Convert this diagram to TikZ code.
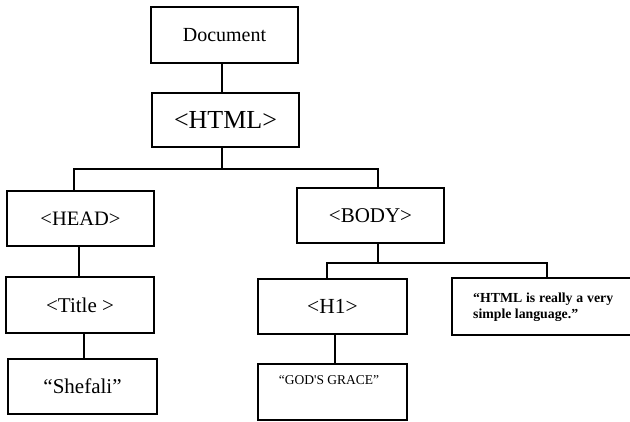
\documentclass[tikz,border=0pt]{standalone}
\usepackage{fontspec}
\setmainfont{Liberation Serif}
\tikzset{
  box/.style={draw, line width=1.8pt, rectangle, inner sep=0pt},
  link/.style={line width=1.6pt},
}
\newcommand{\fs}[1]{\fontsize{#1pt}{#1pt}\selectfont}
\begin{document}
\begin{tikzpicture}[x=1pt,y=-1pt]
\useasboundingbox (0,0) rectangle (630,421);

% tree boxes
\node[box, minimum width=147, minimum height=56, font=\fs{20}] (doc) at (224.5,35) {Document};
\node[box, minimum width=147, minimum height=54, font=\fs{26}] (html) at (225.5,120) {<HTML>};
\node[box, minimum width=147, minimum height=55, font=\fs{20.5}] (head) at (80.5,218.5) {<HEAD>};
\node[box, minimum width=147, minimum height=55, font=\fs{21}] (body) at (370.5,215.5) {<BODY>};
\node[box, minimum width=148, minimum height=56, font=\fs{21}] (title) at (80,305) {<Title >};
\node[box, minimum width=149, minimum height=55, font=\fs{21}] (shefali) at (82.5,386.5) {“Shefali”};
\node[box, minimum width=149, minimum height=55, font=\fs{21.5}] (h1) at (332.5,306.5) {<H1>};
\node[box, minimum width=149, minimum height=56] (grace) at (332.5,392) {};
\node[box, minimum width=190, minimum height=57] (quote) at (547,306.5) {};

% texts set near the top of their boxes
\node[font=\fs{13.5}, inner sep=0pt] (gracetxt) at (329,380) {“GOD\textquotesingle S GRACE”};
\node[font=\fs{13.8}\bfseries, inner sep=0pt, anchor=base west] (quoteA) at (473,302)
  {\makebox[140pt][s]{“HTML is really a very}};
\node[font=\fs{13.8}\bfseries, inner sep=0pt, anchor=base west] (quoteB) at (473,318)
  {\makebox[105pt][s]{simple language.”}};

% connector junctions
\coordinate (busM) at (222,169);
\coordinate (busL) at (74,169);
\coordinate (busR) at (378,169);
\coordinate (subL) at (327,263);
\coordinate (subR) at (547,263);
\coordinate (colHT) at (79,0);
\coordinate (colTS) at (84,0);
\coordinate (colHG) at (335,0);

% connectors
\draw[link] (doc.south -| busM) -- (html.north -| busM);
\draw[link] (html.south -| busM) -- (busM);
\draw[link] (head.north -| busL) -- (busL) -- (busR) -- (body.north -| busR);
\draw[link] (head.south -| colHT) -- (title.north -| colHT);
\draw[link] (title.south -| colTS) -- (shefali.north -| colTS);
\draw[link] (body.south -| busR) -- (subL -| busR);
\draw[link] (h1.north -| subL) -- (subL) -- (subR) -- (quote.north -| subR);
\draw[link] (h1.south -| colHG) -- (grace.north -| colHG);
\end{tikzpicture}
\end{document}
